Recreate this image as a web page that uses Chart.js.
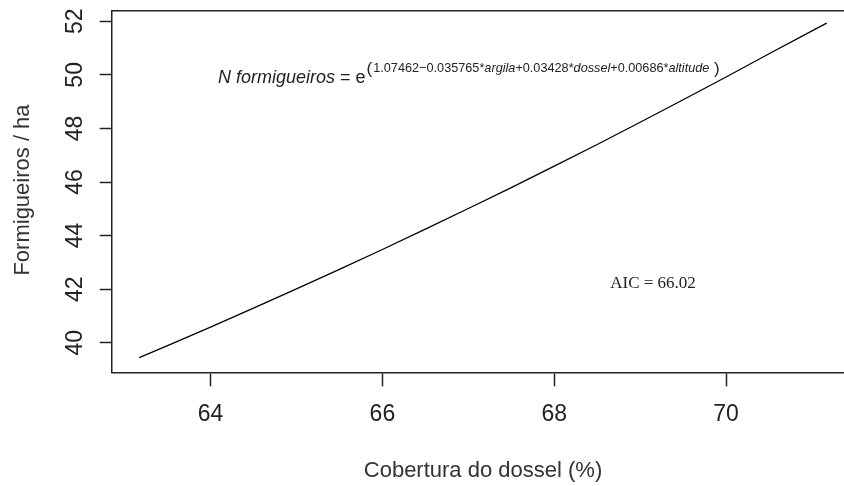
<!DOCTYPE html>
<html>
<head>
<meta charset="utf-8">
<script src="https://cdn.jsdelivr.net/npm/chart.js@4/dist/chart.umd.min.js"></script>
<style>
  html, body { margin: 0; padding: 0; background: #fff; overflow: hidden; }
  #wrap { width: 870px; height: 486px; }
</style>
</head>
<body>
<div id="wrap"><canvas id="myChart" width="870" height="486"></canvas></div>
<script>
// values
const dossel = [63.17, 63.5, 64, 64.5, 65, 65.5, 66, 66.5, 67, 67.5, 68, 68.5, 69, 69.5, 70, 70.5, 71, 71.17];
const formigueiros = [39.44, 39.89, 40.58, 41.29, 42.01, 42.74, 43.48, 44.24, 45.01, 45.79, 46.59, 47.40, 48.23, 49.07, 49.92, 50.79, 51.64, 51.93];
const xTicks = [64, 66, 68, 70];
const yTicks = [40, 42, 44, 46, 48, 50, 52];

const axisColor = "#222";
const sans = "'Liberation Sans', Arial, sans-serif";

const extras = {
  id: "extras",
  afterDraw(chart) {
    const c = chart.ctx;
    const area = chart.chartArea;
    const ys = chart.scales.y;
    c.save();
    // top of the box
    c.strokeStyle = axisColor;
    c.lineWidth = 1.5;
    c.beginPath();
    c.moveTo(area.left, area.top);
    c.lineTo(area.right, area.top);
    c.stroke();

    c.fillStyle = axisColor;
    // rotated y tick labels
    c.font = "23px " + sans;
    c.textAlign = "center";
    c.textBaseline = "middle";
    yTicks.forEach(v => {
      const py = ys.getPixelForValue(v);
      c.save();
      c.translate(76, py);
      c.rotate(-Math.PI / 2);
      c.fillText(String(v), 0, 0);
      c.restore();
    });

    // axis titles
    c.font = "22px " + sans;
    c.fillStyle = "#333";
    c.textBaseline = "alphabetic";
    c.fillText("Cobertura do dossel (%)", 483, 477);
    c.save();
    c.translate(29, 190);
    c.rotate(-Math.PI / 2);
    c.fillText("Formigueiros / ha", 0, 0);
    c.restore();

    // model equation
    c.fillStyle = "#222";
    c.textAlign = "left";
    let x = 218;
    c.font = "italic 18px " + sans;
    c.fillText("N formigueiros", x, 83);
    x += c.measureText("N formigueiros").width;
    c.font = "18px " + sans;
    c.fillText(" = e", x, 83);
    x += c.measureText(" = e").width + 1;
    c.font = "17px " + sans;
    c.fillText("(", x, 74);
    x += c.measureText("(").width + 1;
    const parts = [
      ["1.07462\u22120.035765*", false],
      ["argila", true],
      ["+0.03428*", false],
      ["dossel", true],
      ["+0.00686*", false],
      ["altitude", true]
    ];
    parts.forEach(p => {
      c.font = (p[1] ? "italic " : "") + "12.7px " + sans;
      c.fillText(p[0], x, 72);
      x += c.measureText(p[0]).width;
    });
    c.font = "17px " + sans;
    c.fillText(" )", x, 74);

    // AIC
    c.font = "17px 'Liberation Serif', 'Times New Roman', serif";
    c.textAlign = "center";
    c.fillText("AIC = 66.02", 653, 288);
    c.restore();
  }
};

const ctx = document.getElementById("myChart");

new Chart(ctx, {
  type: "line",
  data: {
    datasets: [
      {
        data: dossel.map((d, i) => ({ x: d, y: formigueiros[i] })),
        borderColor: "#000",
        borderWidth: 1.3,
        pointRadius: 0,
        tension: 0,
        fill: false,
      },
    ],
  },
  options: {
    responsive: false,
    animation: false,
    layout: { padding: { top: 10.7, right: 15, left: 0, bottom: 0 } },
    plugins: {
      legend: { display: false },
      tooltip: { enabled: false },
    },
    scales: {
      x: {
        type: "linear",
        min: 62.85,
        max: 71.5,
        afterBuildTicks: s => { s.ticks = xTicks.map(v => ({ value: v })); },
        afterFit: s => { s.height = 113.7; },
        grid: {
          drawOnChartArea: false,
          drawTicks: true,
          tickLength: 14,
          tickColor: axisColor,
          tickWidth: 1.5,
        },
        border: { display: true, color: axisColor, width: 1.5 },
        ticks: {
          font: { family: sans, size: 23 },
          color: "#222",
          padding: 15,
          maxRotation: 0,
          autoSkip: false,
        },
      },
      y: {
        type: "linear",
        min: 38.895,
        max: 52.396,
        afterBuildTicks: s => { s.ticks = yTicks.map(v => ({ value: v })); },
        afterFit: s => { s.width = 111.7; },
        grid: {
          drawOnChartArea: false,
          drawTicks: true,
          tickLength: 12,
          tickColor: axisColor,
          tickWidth: 1.5,
        },
        border: { display: true, color: axisColor, width: 1.5 },
        ticks: { display: false },
      },
    },
  },
  plugins: [extras],
});
</script>
</body>
</html>
